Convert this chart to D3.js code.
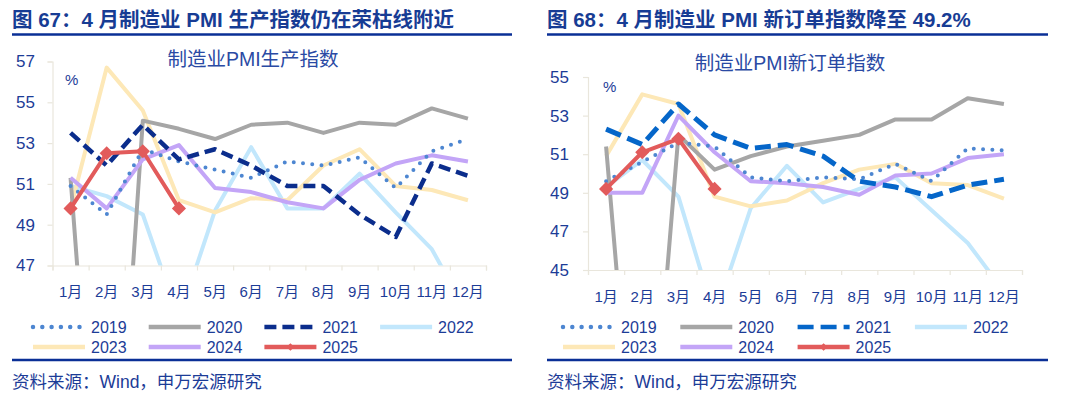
<!DOCTYPE html>
<meta charset="utf-8">
<style>
  body { margin: 0; background: #fff; }
  svg text { font-family: "Liberation Sans", "Noto Sans CJK SC", sans-serif; }
</style>
<script src="https://d3js.org/d3.v7.min.js"></script>
<div id="chart"></div>
<script>

// ---- data ----
var months = ["1月","2月","3月","4月","5月","6月","7月","8月","9月","10月","11月","12月"];
var years = ["2019","2020","2021","2022","2023","2024","2025"];

// 制造业PMI生产指数
var prod2019 = [50.9, 49.5, 52.7, 52.1, 51.7, 51.3, 52.1, 51.9, 52.3, 50.8, 52.6, 53.2];
var prod2020 = [51.3, 27.8, 54.1, 53.7, 53.2, 53.9, 54.0, 53.5, 54.0, 53.9, 54.7, 54.2];
var prod2021 = [53.5, 51.9, 53.9, 52.2, 52.7, 51.9, 50.9, 50.9, 49.5, 48.4, 52.0, 51.4];
var prod2022 = [50.9, 50.4, 49.5, 44.4, 49.7, 52.8, 49.8, 49.8, 51.5, 49.6, 47.8, 44.6];
var prod2023 = [49.8, 56.7, 54.6, 50.2, 49.6, 50.3, 50.2, 51.9, 52.7, 50.9, 50.7, 50.2];
var prod2024 = [51.3, 49.8, 52.2, 52.9, 50.8, 50.6, 50.1, 49.8, 51.2, 52.0, 52.4, 52.1];
var prod2025 = [49.8, 52.5, 52.6, 49.8];
var prodTicks = [47, 49, 51, 53, 55, 57];

// 制造业PMI新订单指数
var ord2019 = [49.6, 50.6, 51.6, 51.4, 49.8, 49.6, 49.8, 49.7, 50.5, 49.6, 51.3, 51.2];
var ord2020 = [51.4, 29.3, 52.0, 50.2, 50.9, 51.4, 51.7, 52.0, 52.8, 52.8, 53.9, 53.6];
var ord2021 = [52.3, 51.5, 53.6, 52.0, 51.3, 51.5, 50.9, 49.6, 49.3, 48.8, 49.4, 49.7];
var ord2022 = [49.3, 50.7, 48.8, 42.6, 48.2, 50.4, 48.5, 49.2, 49.8, 48.1, 46.4, 43.9];
var ord2023 = [50.9, 54.1, 53.6, 48.8, 48.3, 48.6, 49.5, 50.2, 50.5, 49.5, 49.4, 48.7];
var ord2024 = [49.0, 49.0, 53.0, 51.1, 49.6, 49.5, 49.3, 48.9, 49.9, 50.0, 50.8, 51.0];
var ord2025 = [49.2, 51.1, 51.8, 49.2];
var ordTicks = [45, 47, 49, 51, 53, 55];

// ---- styles per year ----
var textColor = "#1c3c97";
var axisColor = "#e9e6dc";
var styles = {
  "2019": {color: "#4d86d1", width: 4, dash: "0,9.3", cap: "round"},
  "2020": {color: "#a6a6a6", width: 4, dash: null, cap: "butt"},
  "2021": {color: "#0b2d8c", width: 4.5, dash: "12,6", cap: "butt"},
  "2022": {color: "#c2e7fc", width: 4, dash: null, cap: "butt"},
  "2023": {color: "#fde8b7", width: 4, dash: null, cap: "butt"},
  "2024": {color: "#c3a5f7", width: 4, dash: null, cap: "butt"},
  "2025": {color: "#e25b5b", width: 4, dash: null, cap: "butt"}
};
// drawing order (later on top)
var drawOrder = ["2022", "2023", "2020", "2024", "2019", "2021", "2025"];

var svg = d3.select("#chart").append("svg")
  .attr("width", 1080)
  .attr("height", 397);

function drawPanel(p) {
  var g = svg.append("g");

  // header title + rules
  g.append("text")
    .attr("x", p.left).attr("y", 27)
    .attr("fill", "#173c94")
    .style("font-size", "20.5px").style("font-weight", "bold")
    .text(p.title);
  g.append("line")
    .attr("x1", p.left).attr("x2", p.right)
    .attr("y1", 34.5).attr("y2", 34.5)
    .attr("stroke", "#0a2f96").attr("stroke-width", 2.5);
  g.append("line")
    .attr("x1", p.left).attr("x2", p.right)
    .attr("y1", 360).attr("y2", 360)
    .attr("stroke", "#0a2f96").attr("stroke-width", 2.5);
  g.append("text")
    .attr("x", p.left).attr("y", 388)
    .attr("fill", textColor)
    .style("font-size", "17.5px")
    .text("资料来源：Wind，申万宏源研究");

  // subtitle and unit
  g.append("text")
    .attr("x", p.subX).attr("y", p.subY)
    .attr("text-anchor", "middle")
    .attr("fill", "#2a4aa4")
    .style("font-size", "19.5px")
    .text(p.subtitle);
  g.append("text")
    .attr("x", p.pctX).attr("y", p.pctY)
    .attr("fill", textColor)
    .style("font-size", "15px")
    .text("%");

  // scales
  var x = d3.scaleBand().domain(months).range([p.x0, p.x1]);
  var xEdge = d3.scaleLinear().domain([0, 12]).range([p.x0, p.x1]);
  var y = d3.scaleLinear().domain([p.ticks[0], p.ticks[p.ticks.length - 1]]).range([p.yBottom, p.yTop]);

  // y axis
  var yAxis = g.append("g")
    .attr("transform", "translate(" + p.x0 + ",0)")
    .call(d3.axisLeft(y).tickValues(p.ticks).tickSize(5).tickPadding(p.yPad).tickFormat(d3.format("d")));
  yAxis.selectAll("text").attr("fill", textColor).style("font-size", "17px").style("font-family", null);

  // x axis: boundary ticks + month labels
  var xTicks = g.append("g")
    .attr("transform", "translate(0," + p.yBottom + ")")
    .call(d3.axisBottom(xEdge).tickValues(d3.range(13)).tickSize(5).tickFormat(""));
  var xLabels = g.append("g")
    .attr("transform", "translate(0," + p.yBottom + ")")
    .call(d3.axisBottom(x).tickSize(0).tickPadding(21));
  xLabels.select(".domain").remove();
  xLabels.selectAll("text").attr("fill", textColor).style("font-size", "15px").style("font-family", null);

  g.selectAll(".domain, .tick line").attr("stroke", axisColor).attr("stroke-width", 1.2);

  // clip lines at the bottom of the plot
  svg.append("clipPath").attr("id", p.id + "clip")
    .append("rect")
      .attr("x", p.x0).attr("y", p.yTop - 20)
      .attr("width", p.x1 - p.x0).attr("height", p.yBottom - p.yTop + 20);

  var line = d3.line()
    .x(function(d, i) { return x(months[i]) + x.bandwidth() / 2; })
    .y(function(d) { return y(d); });

  var plot = g.append("g").attr("clip-path", "url(#" + p.id + "clip)");

  drawOrder.forEach(function(yr) {
    var s = styles[yr];
    var col = (yr === "2021" && p.color2021) ? p.color2021 : s.color;
    var dash = (yr === "2021" && p.dash2021) ? p.dash2021 : s.dash;
    var w = (yr === "2021" && p.width2021) ? p.width2021 : s.width;
    plot.append("path")
      .datum(p.series[yr])
      .attr("d", line)
      .attr("fill", "none")
      .attr("stroke", col)
      .attr("stroke-width", w)
      .attr("stroke-linejoin", "round")
      .attr("stroke-linecap", s.cap)
      .attr("stroke-dasharray", dash);
  });

  // 2025 diamond markers
  plot.selectAll(".mk")
    .data(p.series["2025"])
    .enter().append("path")
      .attr("class", "mk")
      .attr("d", d3.symbol().type(d3.symbolSquare).size(100))
      .attr("transform", function(d, i) {
        return "translate(" + (x(months[i]) + x.bandwidth() / 2) + "," + y(d) + ") rotate(45)";
      })
      .attr("fill", styles["2025"].color);

  // legend
  var leg = g.append("g");
  years.forEach(function(yr, i) {
    var s = styles[yr];
    var col = (yr === "2021" && p.color2021) ? p.color2021 : s.color;
    var dash = (yr === "2021" && p.dash2021) ? p.dash2021 : s.dash;
    var lx = p.legX + (i % 4) * p.legStep;
    var ly = i < 4 ? 327 : 347;
    leg.append("line")
      .attr("x1", lx).attr("x2", lx + 52)
      .attr("y1", ly).attr("y2", ly)
      .attr("stroke", col)
      .attr("stroke-width", 4.5)
      .attr("stroke-linecap", s.cap)
      .attr("stroke-dasharray", dash);
    if (yr === "2025") {
      leg.append("path")
        .attr("d", d3.symbol().type(d3.symbolSquare).size(30))
        .attr("transform", "translate(" + (lx + 26) + "," + ly + ") rotate(45)")
        .attr("fill", col);
    }
    leg.append("text")
      .attr("x", lx + 58).attr("y", ly + 6)
      .attr("fill", textColor)
      .style("font-size", "16px")
      .text(yr);
  });
}

drawPanel({
  id: "p1",
  title: "图 67：4 月制造业 PMI 生产指数仍在荣枯线附近",
  subtitle: "制造业PMI生产指数",
  left: 12, right: 512,
  subX: 253, subY: 66,
  pctX: 65, pctY: 85,
  x0: 52.5, x1: 486, yTop: 61.5, yBottom: 265.5, yPad: 12.5,
  ticks: prodTicks,
  legX: 33, legStep: 115.7,
  series: {"2019": prod2019, "2020": prod2020, "2021": prod2021, "2022": prod2022,
           "2023": prod2023, "2024": prod2024, "2025": prod2025}
});

drawPanel({
  id: "p2",
  title: "图 68：4 月制造业 PMI 新订单指数降至 49.2%",
  subtitle: "制造业PMI新订单指数",
  left: 547, right: 1048,
  subX: 790, subY: 70,
  pctX: 603, pctY: 92,
  x0: 588, x1: 1022, yTop: 77, yBottom: 270, yPad: 14,
  ticks: ordTicks,
  legX: 563, legStep: 117.3,
  color2021: "#0566c9", dash2021: "16,7", width2021: 5,
  series: {"2019": ord2019, "2020": ord2020, "2021": ord2021, "2022": ord2022,
           "2023": ord2023, "2024": ord2024, "2025": ord2025}
});

</script>
